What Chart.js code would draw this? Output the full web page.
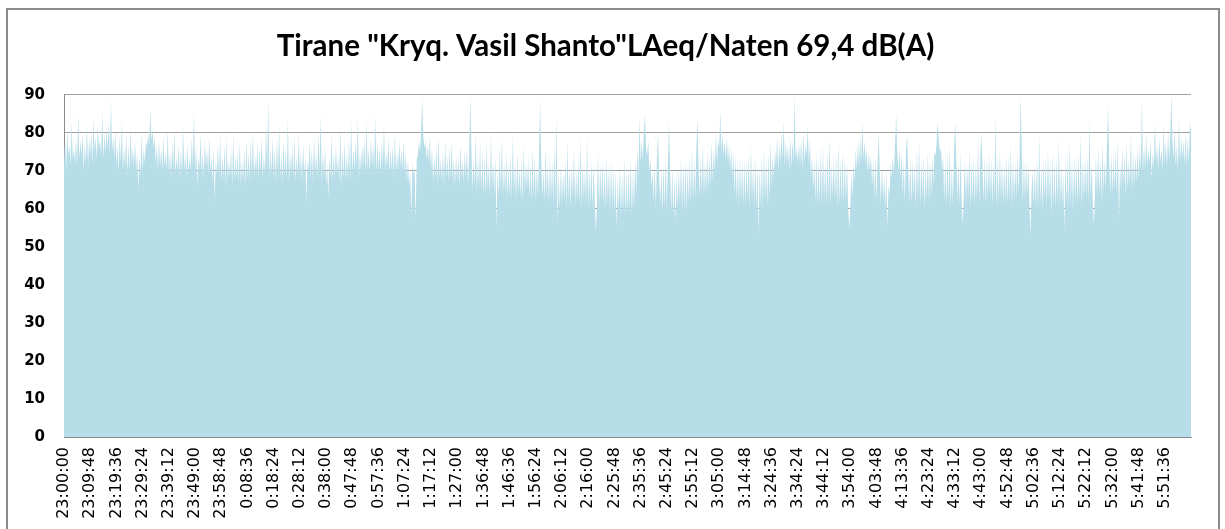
<!DOCTYPE html>
<html>
<head>
<meta charset="utf-8">
<script src="https://cdn.jsdelivr.net/npm/chart.js@4/dist/chart.umd.min.js"></script>
<style>
  body { margin: 0; background: #fff; overflow: hidden; }
  #wrap { position: absolute; left: 0; top: 0; width: 1225px; height: 529px; }
  #frame { position: absolute; left: 6px; top: 8px; width: 1210px; height: 600px; border: 2px solid #8c8c8c; pointer-events: none; }
</style>
</head>
<body>
<div id="wrap"><canvas id="noiseChart" width="1225" height="529"></canvas></div>
<div id="frame"></div>
<script>
const chartTitle = 'Tirane "Kryq. Vasil Shanto"LAeq/Naten 69,4 dB(A)';

// axis labels, one every 24 samples (9:48 apart)
const tickLabels = ['23:00:00','23:09:48','23:19:36','23:29:24','23:39:12','23:49:00','23:58:48',
  '0:08:36','0:18:24','0:28:12','0:38:00','0:47:48','0:57:36','1:07:24','1:17:12','1:27:00',
  '1:36:48','1:46:36','1:56:24','2:06:12','2:16:00','2:25:48','2:35:36','2:45:24','2:55:12',
  '3:05:00','3:14:48','3:24:36','3:34:24','3:44:12','3:54:00','4:03:48','4:13:36','4:23:24',
  '4:33:12','4:43:00','4:52:48','5:02:36','5:12:24','5:22:12','5:32:00','5:41:48','5:51:36'];
const samplesPerTick = 24;

const yTicks = [0, 10, 20, 30, 40, 50, 60, 70, 80, 90];

// LAeq readings, dB(A) - one row per label interval
const laeqValues = [
  72,78,70,81,74,77,71,83,73,76,72,79,71,85,73,78,74,80,70,77,72,82,71,79,
  74,80,72,84,75,79,73,82,76,78,74,86,73,80,75,81,76,83,74,89,75,79,73,81,
  71,77,70,79,72,83,70,76,71,80,69,77,70,81,72,76,71,78,70,75,65,74,69,80,
  70,76,72,78,76,80,77,86,78,81,76,79,72,77,70,78,71,76,70,79,71,75,70,81,
  69,75,68,78,70,81,69,74,70,77,68,76,69,82,70,75,68,77,69,74,70,79,71,86,
  70,77,66,74,70,80,69,75,68,78,71,76,69,79,70,74,67,76,62,73,69,77,68,80,
  67,74,68,77,66,79,67,73,68,76,66,80,67,74,68,75,67,78,66,73,67,76,66,78,
  68,75,67,78,69,80,68,74,69,77,68,76,70,79,68,74,69,82,70,89,68,76,69,79,
  68,76,67,79,69,82,68,75,67,78,69,76,68,84,67,75,69,77,68,79,67,74,69,80,
  68,75,67,77,69,74,62,73,70,78,68,76,67,79,69,75,68,80,70,85,67,75,68,77,
  66,72,63,74,68,80,67,75,68,77,69,74,67,82,66,76,68,78,67,75,68,79,67,83,
  69,76,70,78,71,84,68,75,70,77,71,79,69,83,70,76,69,79,71,77,70,85,69,78,
  70,76,69,78,71,82,70,75,71,79,69,76,70,77,68,80,69,75,70,78,71,76,70,78,
  69,75,67,73,66,70,58,72,69,71,57,73,74,78,75,80,89,79,76,78,73,77,72,79,
  70,76,67,74,68,77,66,79,68,73,67,75,66,78,68,74,67,76,68,78,67,73,66,74,
  67,74,66,77,68,73,67,75,68,76,66,74,90,76,65,73,66,80,64,74,65,78,64,75,
  64,74,63,78,65,72,63,80,65,73,64,74,55,71,63,76,64,79,63,72,64,75,63,72,
  63,75,62,80,64,72,62,75,64,71,63,73,62,77,64,72,65,74,63,72,62,76,63,74,
  62,72,63,74,89,73,63,71,62,76,63,72,61,74,62,73,61,77,62,85,56,70,60,72,
  61,70,62,73,60,78,62,71,60,72,63,76,61,70,62,74,61,79,60,73,62,71,61,79,
  60,71,61,73,60,72,62,54,61,75,60,72,62,73,61,71,60,74,61,72,59,73,60,71,
  59,70,55,68,60,72,58,69,59,74,58,70,59,71,60,73,58,70,60,73,64,76,68,84,
  72,78,73,80,85,76,74,78,70,73,66,70,62,72,60,74,80,68,61,71,59,72,60,74,
  60,72,83,70,59,71,58,69,56,70,60,71,61,74,59,72,60,73,59,71,62,74,61,76,
  62,73,63,75,84,72,63,74,64,77,63,73,64,75,65,74,66,78,67,76,70,80,72,78,
  76,86,75,80,74,78,73,79,72,77,70,76,68,75,64,74,62,73,61,74,62,73,61,73,
  61,73,62,75,60,77,62,72,61,74,60,72,53,71,61,74,60,76,62,73,61,75,62,78,
  66,74,68,76,71,79,70,77,72,80,73,83,71,78,72,77,70,79,71,78,72,90,73,76,
  72,78,71,79,70,80,72,77,74,82,72,78,68,74,65,73,62,75,61,73,62,76,61,77,
  62,73,61,76,62,79,61,72,63,74,62,75,60,78,61,73,62,75,61,74,62,72,61,55,
  60,70,63,72,67,76,70,78,71,79,72,83,73,78,72,76,69,75,70,74,66,73,63,74,
  62,72,80,70,61,72,62,69,60,70,55,66,64,72,68,74,69,77,85,75,70,76,68,75,
  64,73,62,75,80,70,62,74,61,73,63,72,60,76,62,78,61,73,63,74,60,72,62,75,
  62,73,63,74,66,75,74,77,83,78,75,76,70,74,62,73,61,75,62,77,60,72,61,74,
  83,74,62,73,61,75,62,56,64,73,61,72,63,76,60,73,62,74,61,72,62,78,61,73,
  80,72,62,74,61,73,62,75,63,73,61,72,63,85,60,74,61,76,62,73,61,72,62,74,
  61,74,62,77,60,73,62,72,63,75,64,73,90,76,61,74,62,73,63,72,62,53,65,70,
  61,72,60,74,59,80,61,72,59,73,62,74,60,76,62,73,58,75,61,73,60,74,61,79,
  60,72,61,70,54,73,61,75,60,78,61,73,59,74,62,73,61,75,62,80,60,73,62,74,
  63,74,62,84,63,72,62,56,64,74,63,76,64,73,62,78,64,73,65,76,87,74,63,75,
  64,74,65,76,64,79,57,72,65,76,66,75,63,78,65,73,66,80,64,75,66,74,67,76,
  68,76,70,89,69,77,70,80,71,76,72,78,68,75,71,83,72,77,70,79,72,76,70,82,
  72,78,71,80,73,79,90,78,73,81,71,77,70,84,72,79,73,78,72,80,71,79,72,83,
  80
];

const categories = laeqValues.map((v, i) => i % samplesPerTick === 0 ? (tickLabels[i / samplesPerTick] || '') : '');

const gridGray = '#a0a0a0';
const axisGray = '#8c8c8c';

new Chart(document.getElementById('noiseChart'), {
  type: 'line',
  data: {
    labels: categories,
    datasets: [{
      data: laeqValues,
      fill: 'origin',
      backgroundColor: 'rgb(183,221,232)',
      borderColor: 'transparent',
      borderWidth: 0,
      pointRadius: 0,
      tension: 0
    }]
  },
  options: {
    responsive: false,
    animation: false,
    layout: { padding: { left: 20, right: 34, top: 0, bottom: 0 } },
    plugins: {
      legend: { display: false },
      tooltip: { enabled: false },
      title: {
        display: true,
        text: chartTitle,
        color: '#000',
        font: { family: 'Lato', size: 29.5, weight: 'bold', lineHeight: 1.2 },
        padding: { top: 29, bottom: 30.5 }
      }
    },
    scales: {
      x: {
        grid: { display: false, drawTicks: false },
        border: { display: true, color: axisGray, width: 1 },
        afterFit: s => { s.height = 92; },
        ticks: {
          autoSkip: false,
          minRotation: 90,
          maxRotation: 90,
          padding: 10,
          color: '#000',
          font: { family: 'DejaVu Sans', size: 16 }
        }
      },
      y: {
        min: 0,
        max: 90,
        afterBuildTicks: s => { s.ticks = yTicks.map(v => ({ value: v })); },
        afterFit: s => { s.width = 44; },
        grid: { color: gridGray, lineWidth: 1, drawTicks: false },
        border: { display: true, color: axisGray, width: 1 },
        ticks: {
          padding: 19,
          color: '#000',
          font: { family: 'DejaVu Sans', size: 15, weight: 'bold' }
        }
      }
    }
  }
});
</script>
</body>
</html>
